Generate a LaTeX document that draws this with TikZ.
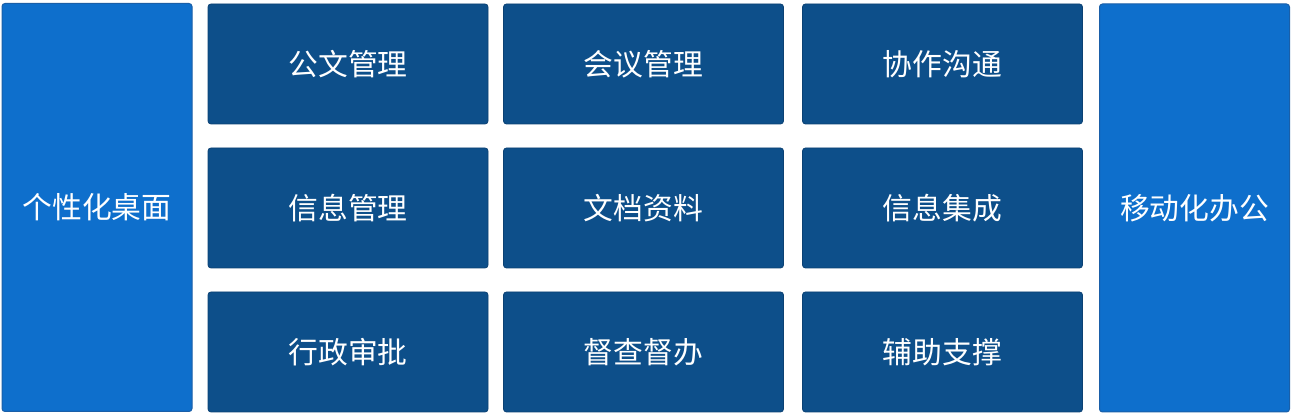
\documentclass[tikz,border=0pt]{standalone}
\usepackage{fontspec}
\setmainfont{Noto Sans CJK SC}
\definecolor{sideblue}{HTML}{0E6FCC}
\definecolor{sideedge}{HTML}{1A5FA8}
\definecolor{gridblue}{HTML}{0D4F8A}
\definecolor{gridedge}{HTML}{0B4173}
\begin{document}
\begin{tikzpicture}[x=0.5pt,y=-0.5pt,
    sidebox/.style={draw=sideedge, fill=sideblue, line width=0.5pt, rounded corners=1.5pt,
        minimum width=95pt, minimum height=204pt, inner sep=0pt, text=white, font=\fontsize{14.9pt}{17pt}\selectfont},
    funcbox/.style={draw=gridedge, fill=gridblue, line width=0.4pt, rounded corners=1.5pt,
        minimum width=140pt, minimum height=60pt, inner sep=0pt, text=white, font=\fontsize{14.9pt}{17pt}\selectfont}]

    \useasboundingbox (0,0) rectangle (1292,416);

    % left and right
    \node [sidebox] (desk) at (97,207.5) {个性化桌面};
    \node [sidebox] (mobile) at (1194.5,208) {移动化办公};

    % first row
    \node [funcbox] (doc) at (348,64) {公文管理};
    \node [funcbox] (meet) at (643.5,64) {会议管理};
    \node [funcbox] (coop) at (942.5,64) {协作沟通};

    % second row
    \node [funcbox] (info) at (348,208) {信息管理};
    \node [funcbox] (file) at (643.5,208) {文档资料};
    \node [funcbox] (integ) at (942.5,208) {信息集成};

    % third row
    \node [funcbox] (admin) at (348,352) {行政审批};
    \node [funcbox] (super) at (643.5,352) {督查督办};
    \node [funcbox] (support) at (942.5,352) {辅助支撑};

\end{tikzpicture}
\end{document}
